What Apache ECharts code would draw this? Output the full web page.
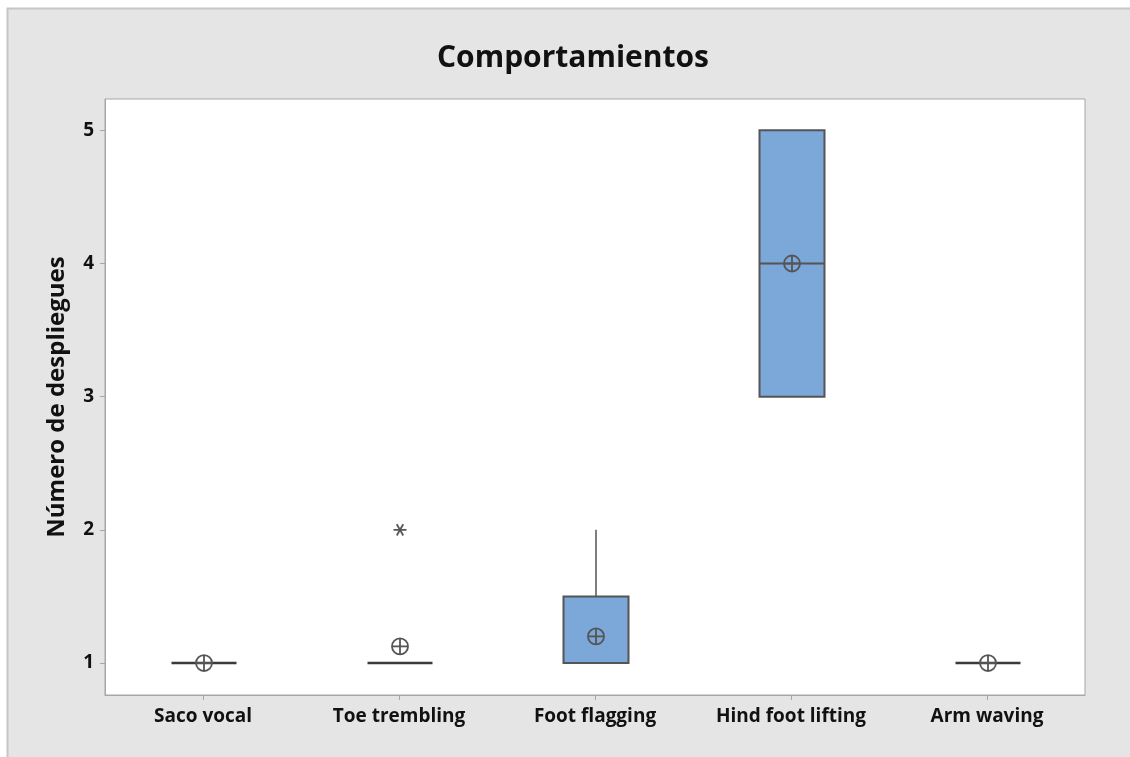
<!DOCTYPE html>
<html>
<head>
<meta charset="utf-8">
<script src="https://cdn.jsdelivr.net/npm/echarts@6/dist/echarts.min.js"></script>
<style>
  html, body { margin: 0; padding: 0; background: #ffffff; }
  #chart { width: 1130px; height: 757px; }
</style>
</head>
<body>
<div id="chart"></div>
<script>
// Behaviour categories and box-plot statistics
var categories = ['Saco vocal', 'Toe trembling', 'Foot flagging', 'Hind foot lifting', 'Arm waving'];
var whiskerLow  = [1, 1, 1, 3, 1];
var q1          = [1, 1, 1, 3, 1];
var median      = [1, 1, 1, 4, 1];
var q3          = [1, 1, 1.5, 5, 1];
var whiskerHigh = [1, 1, 2, 5, 1];
var means       = [1, 1.125, 1.2, 4, 1];
// Outliers as [category index, value]
var outliers    = [[1, 2]];
var yTicks      = [1, 2, 3, 4, 5];

var FONT = '"Open Sans", "Noto Sans", sans-serif';
var LINE = '#555555';
var BOX_FILL = '#7ba7d9';
var BOX_W = 65;

var boxData = categories.map(function (c, i) {
  return [i, whiskerLow[i], q1[i], median[i], q3[i], whiskerHigh[i]];
});
var meanData = means.map(function (m, i) { return [i, m]; });

function renderBox(params, api) {
  var i = api.value(0);
  var pLow = api.coord([i, api.value(1)]);
  var pQ1 = api.coord([i, api.value(2)]);
  var pMed = api.coord([i, api.value(3)]);
  var pQ3 = api.coord([i, api.value(4)]);
  var pHigh = api.coord([i, api.value(5)]);
  var cx = pQ1[0] + 1;
  var half = BOX_W / 2;
  var children = [];
  var lineStyle = { stroke: LINE, lineWidth: 1.5, fill: null };
  if (pHigh[1] < pQ3[1]) {
    children.push({ type: 'line', shape: { x1: cx, y1: pQ3[1], x2: cx, y2: pHigh[1] }, style: lineStyle });
  }
  if (pLow[1] > pQ1[1]) {
    children.push({ type: 'line', shape: { x1: cx, y1: pQ1[1], x2: cx, y2: pLow[1] }, style: lineStyle });
  }
  var flat = pQ1[1] - pQ3[1] <= 0.5;
  if (!flat) {
    children.push({
      type: 'rect',
      shape: { x: cx - half, y: pQ3[1], width: BOX_W, height: pQ1[1] - pQ3[1] },
      style: { fill: BOX_FILL, stroke: LINE, lineWidth: 2 }
    });
  }
  children.push({
    type: 'line',
    shape: { x1: cx - half, y1: pMed[1], x2: cx + half, y2: pMed[1] },
    style: { stroke: flat ? '#3a3a3a' : LINE, lineWidth: flat ? 2.5 : 2 }
  });
  return { type: 'group', children: children };
}

function renderMean(params, api) {
  var p = api.coord([api.value(0), api.value(1)]);
  p[0] += 1;
  var r = 8;
  var st = { stroke: LINE, lineWidth: 1.8, fill: null };
  return {
    type: 'group',
    children: [
      { type: 'circle', shape: { cx: p[0], cy: p[1], r: r }, style: { stroke: LINE, lineWidth: 1.8, fill: 'rgba(255,255,255,0)' } },
      { type: 'line', shape: { x1: p[0] - r, y1: p[1], x2: p[0] + r, y2: p[1] }, style: st },
      { type: 'line', shape: { x1: p[0], y1: p[1] - r, x2: p[0], y2: p[1] + r }, style: st }
    ]
  };
}

function renderOutlier(params, api) {
  var p = api.coord([api.value(0), api.value(1)]);
  p[0] += 1;
  var r = 6.5;
  var st = { stroke: LINE, lineWidth: 1.8 };
  var children = [0, 60, 120].map(function (deg) {
    var a = deg * Math.PI / 180;
    return { type: 'line', shape: { x1: p[0] - r * Math.cos(a), y1: p[1] - r * Math.sin(a), x2: p[0] + r * Math.cos(a), y2: p[1] + r * Math.sin(a) }, style: st };
  });
  return { type: 'group', children: children };
}

var chart = echarts.init(document.getElementById('chart'), null, { renderer: 'canvas' });
chart.setOption({
  animation: false,
  backgroundColor: '#ffffff',
  graphic: [
    { type: 'rect', z: -10, silent: true, shape: { x: 7.5, y: 8.5, width: 1140, height: 770 }, style: { fill: '#e5e5e5', stroke: '#c6c6c6', lineWidth: 2 } },
    { type: 'text', x: 573, y: 58, style: { text: 'Comportamientos', font: 'bold 30px ' + FONT, fill: '#111111', textAlign: 'center', textVerticalAlign: 'middle' } }
  ],
  grid: {
    left: 105, top: 99, right: 45, bottom: 62,
    show: true, backgroundColor: '#ffffff', borderColor: '#a6a6a6', borderWidth: 1
  },
  xAxis: {
    type: 'category',
    data: categories,
    boundaryGap: true,
    axisLine: { show: true, lineStyle: { color: '#a6a6a6', width: 1 } },
    axisTick: { show: true, alignWithLabel: true, interval: 0, length: 5, lineStyle: { color: '#a6a6a6' } },
    axisLabel: { interval: 0, hideOverlap: false, color: '#111111', fontFamily: FONT, fontWeight: 'bold', fontSize: 19, margin: 12 },
    splitLine: { show: false }
  },
  yAxis: {
    type: 'value',
    min: 0.76,
    max: 5.235,
    name: 'Número de despliegues',
    nameLocation: 'middle',
    nameRotate: 90,
    nameGap: 36,
    nameTextStyle: { color: '#111111', fontFamily: FONT, fontWeight: 'bold', fontSize: 24 },
    axisLine: { show: true, lineStyle: { color: '#a6a6a6', width: 1 } },
    axisTick: { show: true, length: 5, customValues: yTicks, lineStyle: { color: '#a6a6a6' } },
    axisLabel: { color: '#111111', fontFamily: FONT, fontWeight: 'bold', fontSize: 19, margin: 11, customValues: yTicks },
    splitLine: { show: false }
  },
  series: [
    { type: 'custom', name: 'box', renderItem: renderBox, data: boxData, z: 2, encode: { x: 0, y: [1, 2, 3, 4, 5] } },
    { type: 'custom', name: 'mean', renderItem: renderMean, data: meanData, z: 3, encode: { x: 0, y: 1 } },
    { type: 'custom', name: 'outlier', renderItem: renderOutlier, data: outliers, z: 3, encode: { x: 0, y: 1 } }
  ]
});
</script>
</body>
</html>
